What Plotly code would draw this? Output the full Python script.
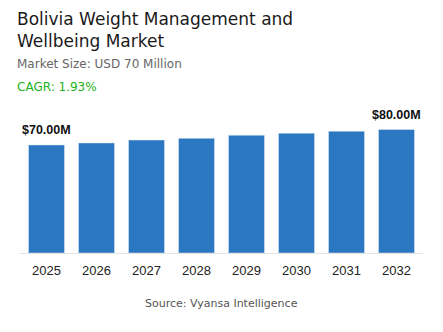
import plotly.graph_objects as go

years = ["2025", "2026", "2027", "2028", "2029", "2030", "2031", "2032"]
values = [70.0, 71.3, 73.2, 74.3, 76.3, 77.6, 78.9, 80.0]
label_idx = [0, len(values) - 1]

fig = go.Figure()
fig.add_trace(go.Bar(
    x=years, y=values,
    marker=dict(color="#2b77c1"),
))

for i in label_idx:
    fig.add_annotation(x=i, y=values[i], text=f"<b>${values[i]:.2f}M</b>",
                       showarrow=False, yanchor="bottom", yshift=6,
                       font=dict(family="Liberation Sans", size=12.5, color="#111111"))

fig.update_layout(
    width=443, height=332,
    margin=dict(l=20, r=20, t=115, b=79),
    paper_bgcolor="white", plot_bgcolor="white",
    bargap=0.28,
    showlegend=False,
    xaxis=dict(type="category", showgrid=False, showline=True, linecolor="#e3e3e3", linewidth=1,
               tickfont=dict(family="Liberation Sans", size=13, color="#222222"),
               ticks="", ticklabelstandoff=5),
    yaxis=dict(visible=False, range=[0, 89.4]),
    font=dict(family="Liberation Sans"),
)

x0 = -0.0124
fig.add_annotation(text="Bolivia Weight Management and<br>Wellbeing Market", xref="paper", yref="paper",
                   x=x0, y=1.0, xanchor="left", yanchor="top",
                   showarrow=False, align="left",
                   font=dict(family="DejaVu Sans", size=17, color="#1a1a1a"),
                   yshift=108)
fig.add_annotation(text="Market Size: USD 70 Million", xref="paper", yref="paper",
                   x=x0, y=1.0, xanchor="left", yanchor="middle",
                   showarrow=False, font=dict(family="DejaVu Sans", size=12, color="#666666"),
                   yshift=51)
fig.add_annotation(text="CAGR: 1.93%", xref="paper", yref="paper",
                   x=x0, y=1.0, xanchor="left", yanchor="middle",
                   showarrow=False, font=dict(family="DejaVu Sans", size=12, color="#22b322"),
                   yshift=28)
fig.add_annotation(text="Source: Vyansa Intelligence", xref="paper", yref="paper",
                   x=0.5, y=0, xanchor="center", yanchor="middle",
                   showarrow=False, font=dict(family="DejaVu Sans", size=11, color="#555555"),
                   yshift=-50)

fig.write_html("out.html")
